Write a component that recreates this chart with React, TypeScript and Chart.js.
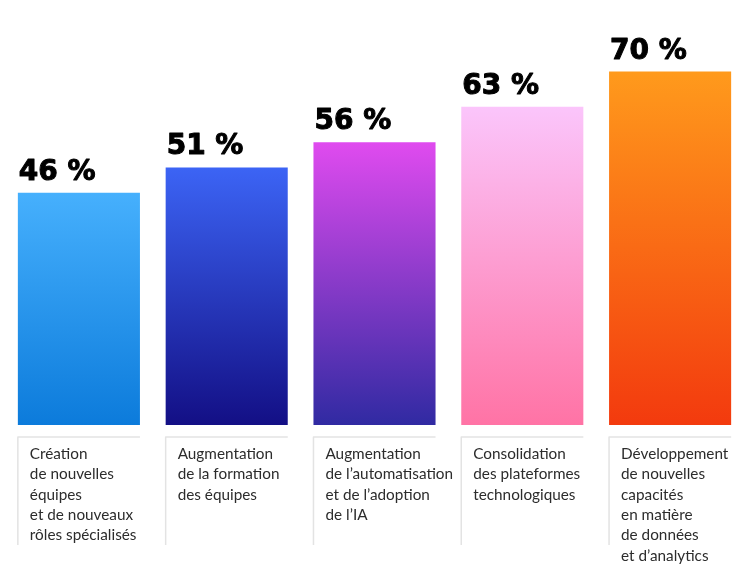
import React, { useEffect, useRef } from "react";
import { Chart, registerables } from "chart.js";

Chart.register(...registerables);

const categories: string[][] = [
  ["Création", "de nouvelles", "équipes", "et de nouveaux", "rôles spécialisés"],
  ["Augmentation", "de la formation", "des équipes"],
  ["Augmentation", "de l’automatisation", "et de l’adoption", "de l’IA"],
  ["Consolidation", "des plateformes", "technologiques"],
  ["Développement", "de nouvelles", "capacités", "en matière", "de données", "et d’analytics"],
];
const values: number[] = [46, 51, 56, 63, 70];
const valueLabels: string[] = ["46 %", "51 %", "56 %", "63 %", "70 %"];
const topColors: string[] = ["#46b0fd", "#3c64f5", "#e04bef", "#fbc5fb", "#ff9a1c"];
const bottomColors: string[] = ["#0c7bdb", "#130f85", "#302aa2", "#ff73a5", "#f33a0e"];

const VALUE_FONT = "bold 28px 'DejaVu Sans', sans-serif";
const CAT_FONT = "15.3px Lato, 'Open Sans', sans-serif";

const labelsPlugin = {
  id: "customLabels",
  afterDatasetsDraw(chart: any) {
    const ctx = chart.ctx;
    const meta = chart.getDatasetMeta(0);
    const bottom = chart.chartArea.bottom;
    meta.data.forEach((bar: any, i: number) => {
      const left = bar.x - bar.width / 2;
      const right = bar.x + bar.width / 2;
      ctx.save();
      ctx.textAlign = "left";
      ctx.textBaseline = "alphabetic";
      ctx.font = VALUE_FONT;
      ctx.fillStyle = "#000000";
      ctx.strokeStyle = "#000000";
      ctx.lineWidth = 1;
      ctx.lineJoin = "round";
      ctx.fillText(valueLabels[i], left + 1, bar.y - 13);
      ctx.strokeText(valueLabels[i], left + 1, bar.y - 13);

      ctx.strokeStyle = "#e3e3e3";
      ctx.lineWidth = 1.5;
      ctx.beginPath();
      ctx.moveTo(left, bottom + 120);
      ctx.lineTo(left, bottom + 12);
      ctx.lineTo(right, bottom + 12);
      ctx.stroke();

      ctx.font = CAT_FONT;
      ctx.fillStyle = "#2c2c2c";
      categories[i].forEach((line, j) => {
        ctx.fillText(line, left + 12, bottom + 34 + j * 20.3);
      });
      ctx.restore();
    });
  },
};

export default function App() {
  const canvasRef = useRef<HTMLCanvasElement | null>(null);

  useEffect(() => {
    if (!canvasRef.current) return;
    const chart = new Chart(canvasRef.current, {
      type: "bar",
      data: {
        labels: categories.map((c) => c.join(" ")),
        datasets: [
          {
            data: values,
            borderWidth: 0,
            categoryPercentage: 1,
            barPercentage: 0.826,
            backgroundColor: (context: any) => {
              const chart = context.chart;
              const area = chart.chartArea;
              const i = context.dataIndex;
              if (!area || i === undefined) return topColors[0];
              const yTop = chart.scales.y.getPixelForValue(values[i]);
              const g = chart.ctx.createLinearGradient(0, yTop, 0, area.bottom);
              g.addColorStop(0, topColors[i]);
              g.addColorStop(1, bottomColors[i]);
              return g;
            },
          },
        ],
      },
      options: {
        responsive: false,
        animation: false,
        layout: { padding: { left: 5, right: 6, top: 21, bottom: 157 } },
        plugins: {
          legend: { display: false },
          tooltip: { enabled: false },
        },
        scales: {
          x: { display: false },
          y: { display: false, min: 0, max: 80 },
        },
      },
      plugins: [labelsPlugin],
    });
    return () => chart.destroy();
  }, []);

  return (
    <div style={{ position: "fixed", left: 0, top: 0, width: 750, height: 582, background: "#ffffff" }}>
      <canvas ref={canvasRef} width={750} height={582} />
    </div>
  );
}
